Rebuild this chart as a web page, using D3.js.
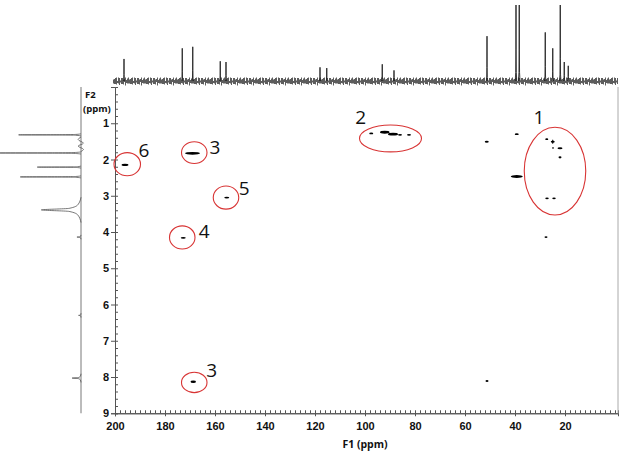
<!DOCTYPE html>
<html>
<head>
<meta charset="utf-8">
<script src="https://cdn.jsdelivr.net/npm/d3@7"></script>
<style>
  body { margin: 0; background: #fff; }
  svg { display: block; font-family: "Open Sans", "Liberation Sans", sans-serif; }
</style>
</head>
<body>
<div id="chart"></div>
<script>
// 13C trace on top (ppm, relative height)
const carbonPpm = [196.4, 173.1, 168.9, 157.9, 155.6, 118.0, 115.3, 93.1, 88.4, 51.2, 39.6, 38.3, 27.9, 24.9, 21.9, 20.3, 18.7];
const carbonInt = [0.29, 0.43, 0.45, 0.26, 0.25, 0.18, 0.17, 0.22, 0.14, 0.59, 1.4, 1.4, 0.64, 0.43, 1.0, 0.25, 0.2];

// 1H trace on the left
const protonPpm = [1.32, 1.82, 2.21, 2.48, 3.39, 4.14, 6.30, 8.03];
const protonInt = [0.77, 1.10, 0.54, 0.75, 0.49, 0.05, 0.03, 0.11];
const protonWidth = [0.03, 0.03, 0.03, 0.03, 0.35, 0.06, 0.06, 0.12];
// small wiggle of the baseline between 1.3 and 1.8 ppm
const wigglePpm = [1.38, 1.45, 1.55, 1.63, 1.72, 1.78];
const wiggleInt = [0, 0.035, -0.03, 0.035, -0.03, 0];

// cross peaks: F1 (13C), F2 (1H), width in F1 ppm, thickness in F2 ppm
const crossF1 = [196.0, 169.0, 155.3, 172.7, 168.7, 97.5, 92.1, 88.8, 86.0, 82.4, 51.3, 39.3, 27.3, 24.9, 24.9, 24.8, 22.0, 22.0, 39.3, 27.2, 24.4, 27.6, 51.2];
const crossF2 = [2.15, 1.83, 3.05, 4.16, 8.13, 1.28, 1.25, 1.30, 1.32, 1.32, 1.51, 1.30, 1.44, 1.51, 1.51, 1.68, 1.69, 1.94, 2.47, 3.07, 3.07, 4.14, 8.11];
const crossW = [2.7, 6.0, 2.0, 2.0, 2.2, 1.6, 3.8, 4.0, 1.6, 1.6, 1.6, 1.6, 1.2, 1.6, 0.5, 0.6, 2.0, 1.2, 4.8, 1.4, 1.4, 1.2, 1.2];
const crossT = [0.06, 0.08, 0.05, 0.05, 0.07, 0.05, 0.08, 0.08, 0.05, 0.05, 0.05, 0.05, 0.05, 0.05, 0.12, 0.05, 0.06, 0.06, 0.08, 0.05, 0.05, 0.05, 0.05];

// red rings with their numbers
const ringLabel = ["1", "2", "6", "3", "5", "4", "3"];
const ringF1 = [24.0, 89.8, 195.1, 168.3, 155.6, 173.1, 168.3];
const ringF2 = [2.32, 1.42, 2.13, 1.81, 3.05, 4.15, 8.15];
const ringRx = [12.3, 12.4, 5.3, 5.1, 5.1, 5.1, 5.1];
const ringRy = [1.21, 0.37, 0.32, 0.30, 0.32, 0.32, 0.28];
const labelF1 = [30.4, 101.7, 188.4, 160.0, 148.3, 164.3, 161.3];
const labelF2 = [0.82, 0.82, 1.74, 1.65, 2.79, 3.99, 7.81];

const f1Ticks = [200, 180, 160, 140, 120, 100, 80, 60, 40, 20];
const f2Ticks = [1, 2, 3, 4, 5, 6, 7, 8, 9];

const W = 624, H = 459;
const x = d3.scaleLinear().domain([200, -1.2]).range([115, 618]);
const y = d3.scaleLinear().domain([0, 9]).range([87, 413.25]);
const topY = d3.scaleLinear().domain([0, 1]).range([81, 5]);
const leftX = d3.scaleLinear().domain([0, 1]).range([81, 0]);

const svg = d3.select("#chart").append("svg").attr("width", W).attr("height", H);

// peak outline, relative (height, offset) pairs
const shape = [[0, -1], [0.08, -0.4], [0.3, -0.12], [1, 0], [0.3, 0.12], [0.08, 0.4], [0, 1]];

// ---- top 13C trace ----
const defs = svg.append("defs");
defs.append("clipPath").attr("id", "topclip")
  .append("rect").attr("x", 110).attr("y", 5).attr("width", 512).attr("height", 82);
const noiseH = [5, 3, 6, 4, 7, 2, 5, 6, 3, 4, 6, 5, 2, 7, 4, 3];
const pat = defs.append("pattern").attr("id", "noise")
  .attr("patternUnits", "userSpaceOnUse")
  .attr("width", noiseH.length).attr("height", 16).attr("y", 73);
noiseH.forEach((h, i) => {
  pat.append("line")
    .attr("x1", i + 0.5).attr("x2", i + 0.5)
    .attr("y1", 8 - h / 2 + (i % 3 - 1)).attr("y2", 8 + h / 2 + (i % 2))
    .attr("stroke", "#333").attr("stroke-width", 0.8);
});
const topTrace = svg.append("g").attr("clip-path", "url(#topclip)");
topTrace.append("rect").attr("x", x(200) - 2).attr("y", 73)
  .attr("width", x(-1.2) - x(200) + 2).attr("height", 16)
  .attr("fill", "url(#noise)");
const topLine = d3.line()
  .x(d => x(d[1]))
  .y(d => topY(d[0]));
topTrace.selectAll("path.c")
  .data(carbonPpm.map((p, i) => [p, carbonInt[i]]))
  .join("path")
  .attr("class", "c")
  .attr("fill", "none")
  .attr("stroke", "#222")
  .attr("stroke-width", 0.9)
  .attr("d", d => topLine(shape.map(s => [s[0] * d[1], d[0] + s[1] * 0.3])));

// ---- left 1H trace ----
const leftLine = d3.line()
  .x(d => leftX(d[0]))
  .y(d => y(d[1]))
  .curve(d3.curveMonotoneY);
const leftTrace = svg.append("g").attr("fill", "none").attr("stroke", "#555").attr("stroke-width", 0.8);
leftTrace.append("line")
  .attr("x1", leftX(0)).attr("x2", leftX(0))
  .attr("y1", y(0)).attr("y2", y(9));
leftTrace.append("path")
  .attr("d", leftLine(wigglePpm.map((p, i) => [wiggleInt[i], p])));
leftTrace.selectAll("path.h")
  .data(protonPpm.map((p, i) => [p, protonInt[i], protonWidth[i]]))
  .join("path")
  .attr("class", "h")
  .attr("d", d => leftLine(shape.map(s => [s[0] * d[1], d[0] + s[1] * d[2]])));

// ---- axes ----
const axisCol = "#555";
const gx = svg.append("g").attr("transform", `translate(0,${y(9)})`);
gx.call(d3.axisBottom(x).tickValues(d3.range(200, -1, -2)).tickSize(-3).tickFormat(""));
gx.call(g => g.append("g").call(d3.axisBottom(x).tickValues(f1Ticks).tickSize(3).tickFormat(d3.format("d"))));
gx.selectAll("path.domain").attr("stroke", axisCol);
gx.selectAll("line").attr("stroke", axisCol);
gx.selectAll("text")
  .attr("fill", "#111").attr("font-size", 11).attr("font-weight", "bold")
  .attr("dy", "0.95em");

const gy = svg.append("g").attr("transform", `translate(${x(200)},0)`);
gy.call(d3.axisLeft(y).tickValues(d3.range(0.2, 9.01, 0.2)).tickSize(-3).tickFormat(""));
gy.call(g => g.append("g").call(d3.axisLeft(y).tickValues(f2Ticks).tickSize(4).tickFormat(d3.format("d"))));
gy.selectAll("path.domain").attr("stroke", axisCol);
gy.selectAll("line").attr("stroke", axisCol);
gy.selectAll("text")
  .attr("fill", "#111").attr("font-size", 11).attr("font-weight", "bold")
  .attr("x", -6);

svg.append("line")
  .attr("x1", x(-1.2)).attr("x2", x(-1.2))
  .attr("y1", y(0)).attr("y2", y(9))
  .attr("stroke", "#aaa");

svg.append("text")
  .attr("x", 85).attr("y", 98)
  .attr("font-size", 9.5).attr("font-weight", "bold").attr("fill", "#111")
  .text("F2");
svg.append("text")
  .attr("x", 83).attr("y", 112)
  .attr("font-size", 9.5).attr("font-weight", "bold").attr("fill", "#111")
  .text("(ppm)");
svg.append("text")
  .attr("x", x(100)).attr("y", 448)
  .attr("text-anchor", "middle")
  .attr("font-size", 10.5).attr("font-weight", "bold").attr("fill", "#111")
  .text("F1 (ppm)");

// ---- cross peaks ----
svg.append("g").selectAll("ellipse")
  .data(crossF1.map((f, i) => i))
  .join("ellipse")
  .attr("cx", i => x(crossF1[i]))
  .attr("cy", i => y(crossF2[i]))
  .attr("rx", i => Math.abs(x(crossW[i] / 2) - x(0)))
  .attr("ry", i => y(crossT[i] / 2) - y(0))
  .attr("fill", "#000");

// ---- rings and numbers ----
const rings = svg.append("g");
rings.selectAll("ellipse")
  .data(ringLabel.map((l, i) => i))
  .join("ellipse")
  .attr("cx", i => x(ringF1[i]))
  .attr("cy", i => y(ringF2[i]))
  .attr("rx", i => Math.abs(x(ringRx[i]) - x(0)))
  .attr("ry", i => y(ringRy[i]) - y(0))
  .attr("fill", "none")
  .attr("stroke", "#d83434")
  .attr("stroke-width", 1.1);
rings.selectAll("text")
  .data(ringLabel.map((l, i) => i))
  .join("text")
  .attr("x", i => x(labelF1[i]))
  .attr("y", i => y(labelF2[i]))
  .attr("dy", "0.36em")
  .attr("text-anchor", "middle")
  .attr("font-size", 19)
  .attr("fill", "#111")
  .text(i => ringLabel[i]);
</script>
</body>
</html>
